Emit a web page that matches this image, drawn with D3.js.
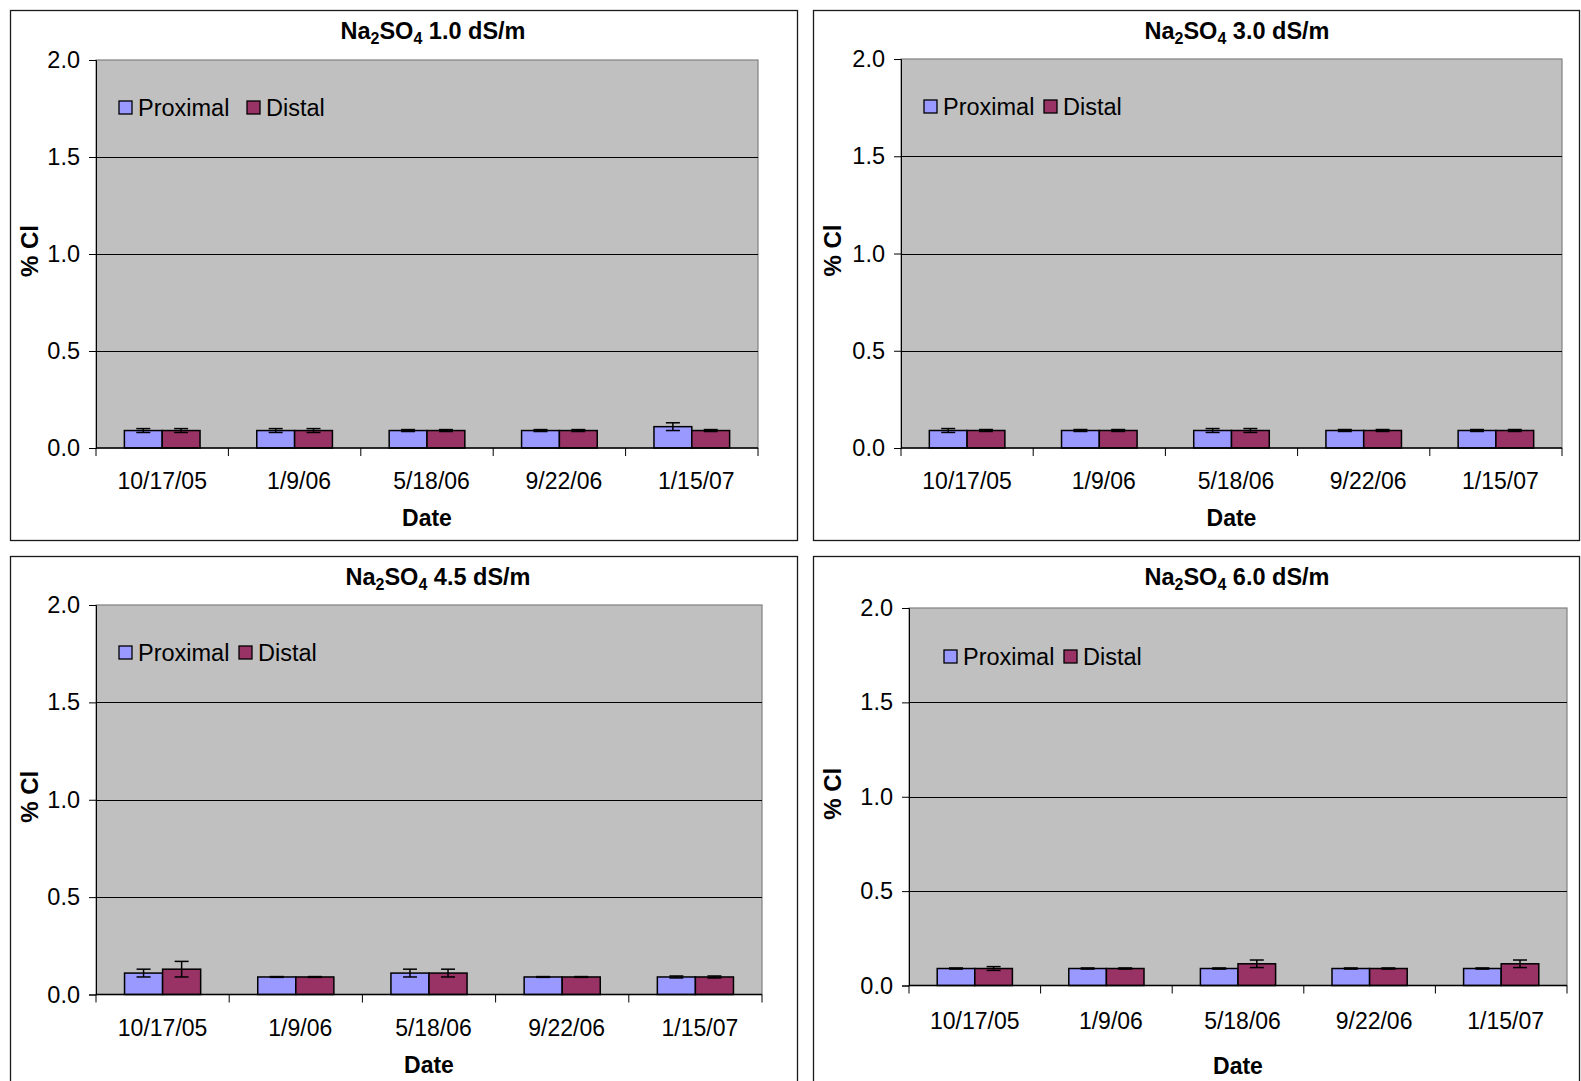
<!DOCTYPE html>
<html>
<head>
<meta charset="utf-8">
<script src="https://cdn.jsdelivr.net/npm/d3@7"></script>
<style>
  html, body { margin: 0; padding: 0; background: #fff; }
  svg { display: block; font-family: "Liberation Sans", Arial, sans-serif; }
  .tick text { fill: #000; }
</style>
</head>
<body>
<svg id="chart" width="1581" height="1081"></svg>
<script>
const dates = ["10/17/05", "1/9/06", "5/18/06", "9/22/06", "1/15/07"];
const series = ["Proximal", "Distal"];
const conductivities = ["1.0", "3.0", "4.5", "6.0"];
const yTicks = [0, 0.5, 1.0, 1.5, 2.0];

// % Cl means, one row per panel
const proximalValues = [
  [0.09, 0.09, 0.09, 0.09, 0.11],
  [0.09, 0.09, 0.09, 0.09, 0.09],
  [0.11, 0.09, 0.11, 0.09, 0.09],
  [0.09, 0.09, 0.09, 0.09, 0.09],
];
const distalValues = [
  [0.09, 0.09, 0.09, 0.09, 0.09],
  [0.09, 0.09, 0.09, 0.09, 0.09],
  [0.13, 0.09, 0.11, 0.09, 0.09],
  [0.09, 0.09, 0.115, 0.09, 0.115],
];
const proximalErrors = [
  [0.01, 0.01, 0.005, 0.005, 0.02],
  [0.01, 0.005, 0.01, 0.005, 0.005],
  [0.02, 0.002, 0.02, 0.002, 0.005],
  [0.003, 0.003, 0.003, 0.003, 0.003],
];
const distalErrors = [
  [0.01, 0.01, 0.005, 0.005, 0.005],
  [0.005, 0.005, 0.01, 0.005, 0.005],
  [0.04, 0.002, 0.02, 0.002, 0.005],
  [0.01, 0.003, 0.02, 0.003, 0.02],
];

const colors = { Proximal: "#9999ff", Distal: "#993366" };

// panel frames and plot areas (pixels)
const panels = [
  { box: [10, 10, 787, 530], plot: [96, 60, 662, 388], titleX: 433, titleY: 31, labelDy: 33, dateDy: 70, yTitleX: 30, legend: [119, 101], distalOffset: 128 },
  { box: [813, 10, 766, 530], plot: [901, 59, 661, 389], titleX: 1237, titleY: 31, labelDy: 33, dateDy: 70, yTitleX: 833, legend: [924, 100], distalOffset: 120 },
  { box: [10, 556, 787, 540], plot: [96, 605, 666, 389.5], titleX: 438, titleY: 577, labelDy: 33, dateDy: 70, yTitleX: 30, legend: [119, 646], distalOffset: 120 },
  { box: [813, 556, 766, 540], plot: [909, 608, 658, 377.5], titleX: 1237, titleY: 577, labelDy: 35, dateDy: 80, yTitleX: 833, legend: [944, 650], distalOffset: 120 },
];

const svg = d3.select("#chart");

panels.forEach((p, i) => {
  const [px, py, pw, ph] = p.plot;
  const g = svg.append("g").attr("class", "panel");

  g.append("rect")
    .attr("x", p.box[0] + 0.5).attr("y", p.box[1] + 0.5)
    .attr("width", p.box[2]).attr("height", p.box[3])
    .attr("fill", "#fff").attr("stroke", "#1a1a1a").attr("stroke-width", 1.3);

  const x0 = d3.scaleBand().domain(dates).range([px, px + pw]).padding(0);
  const groupW = (x0.bandwidth() * 2) / 3.5;
  const x1 = d3.scaleBand().domain(series).range([0, groupW]).padding(0);
  const y = d3.scaleLinear().domain([0, 2]).range([py + ph, py]);

  // plot area
  g.append("rect")
    .attr("x", px).attr("y", py).attr("width", pw).attr("height", ph)
    .attr("fill", "#c0c0c0").attr("stroke", "#808080").attr("stroke-width", 1.2);

  // gridlines
  g.append("g")
    .selectAll("line")
    .data(yTicks.filter((t) => t > 0 && t < 2))
    .join("line")
    .attr("x1", px).attr("x2", px + pw)
    .attr("y1", (d) => Math.round(y(d)) + 0.5).attr("y2", (d) => Math.round(y(d)) + 0.5)
    .attr("stroke", "#000").attr("stroke-width", 1);

  // y axis
  g.append("g")
    .attr("transform", `translate(${px},0)`)
    .call(d3.axisLeft(y).tickValues(yTicks).tickFormat(d3.format(".1f")).tickSize(7).tickPadding(9))
    .call((a) => a.selectAll("line, path").attr("stroke", "#000"))
    .call((a) => a.selectAll("text").attr("font-size", 23.5).attr("font-family", "Liberation Sans, Arial, sans-serif"));

  // bars
  const rows = dates.map((d, j) => ({
    date: d,
    items: [
      { key: "Proximal", value: proximalValues[i][j], err: proximalErrors[i][j] },
      { key: "Distal", value: distalValues[i][j], err: distalErrors[i][j] },
    ],
  }));

  const groups = g.append("g")
    .selectAll("g")
    .data(rows)
    .join("g")
    .attr("transform", (d) => `translate(${x0(d.date) + (x0.bandwidth() - groupW) / 2},0)`);

  groups.selectAll("rect")
    .data((d) => d.items)
    .join("rect")
    .attr("x", (d) => x1(d.key))
    .attr("y", (d) => y(d.value))
    .attr("width", x1.bandwidth())
    .attr("height", (d) => y(0) - y(d.value))
    .attr("fill", (d) => colors[d.key])
    .attr("stroke", "#000").attr("stroke-width", 1.5);

  const err = groups.selectAll("g.err")
    .data((d) => d.items)
    .join("g")
    .attr("class", "err")
    .attr("transform", (d) => `translate(${x1(d.key) + x1.bandwidth() / 2},0)`)
    .attr("stroke", "#000").attr("stroke-width", 1.5);
  err.append("line")
    .attr("y1", (d) => y(d.value + d.err)).attr("y2", (d) => y(d.value - d.err));
  err.append("line")
    .attr("x1", -7).attr("x2", 7)
    .attr("y1", (d) => y(d.value + d.err)).attr("y2", (d) => y(d.value + d.err));
  err.append("line")
    .attr("x1", -7).attr("x2", 7)
    .attr("y1", (d) => y(d.value - d.err)).attr("y2", (d) => y(d.value - d.err));

  // x axis: line with ticks at category boundaries
  const bottom = y(0);
  g.append("line")
    .attr("x1", px).attr("x2", px + pw)
    .attr("y1", bottom).attr("y2", bottom)
    .attr("stroke", "#000").attr("stroke-width", 1.3);
  const bounds = dates.map((d) => x0(d)).concat([px + pw]);
  g.append("g")
    .selectAll("line")
    .data(bounds)
    .join("line")
    .attr("x1", (d) => d).attr("x2", (d) => d)
    .attr("y1", bottom).attr("y2", bottom + 8)
    .attr("stroke", "#000").attr("stroke-width", 1);
  // Excel nudges the later category labels a little to the right
  g.append("g")
    .selectAll("text")
    .data(dates)
    .join("text")
    .attr("x", (d, j) => x0(d) + x0.bandwidth() / 2 + (j === 0 ? 0 : 4.5))
    .attr("y", bottom + p.labelDy)
    .attr("dy", "0.35em")
    .attr("text-anchor", "middle")
    .attr("font-size", 23)
    .text((d) => d);

  // axis titles
  g.append("text")
    .attr("x", px + pw / 2).attr("y", bottom + p.dateDy)
    .attr("dy", "0.35em").attr("text-anchor", "middle")
    .attr("font-size", 23).attr("font-weight", "bold")
    .text("Date");
  g.append("text")
    .attr("transform", `translate(${p.yTitleX},${py + ph / 2 - 3}) rotate(-90)`)
    .attr("dy", "0.35em").attr("text-anchor", "middle")
    .attr("font-size", 24).attr("font-weight", "bold")
    .text("% Cl");

  // title with subscripts
  const t = g.append("text")
    .attr("x", p.titleX).attr("y", p.titleY)
    .attr("dy", "0.35em").attr("text-anchor", "middle")
    .attr("font-size", 23.5).attr("font-weight", "bold");
  t.append("tspan").text("Na");
  t.append("tspan").attr("font-size", 16).attr("dy", 5).text("2");
  t.append("tspan").attr("dy", -5).text("SO");
  t.append("tspan").attr("font-size", 16).attr("dy", 5).text("4");
  t.append("tspan").attr("dy", -5).text(` ${conductivities[i]} dS/m`);

  // legend
  const lg = g.append("g").attr("transform", `translate(${p.legend[0]},${p.legend[1]})`);
  series.forEach((s, k) => {
    const item = lg.append("g").attr("transform", `translate(${k * p.distalOffset},0)`);
    item.append("rect")
      .attr("width", 13).attr("height", 13)
      .attr("fill", colors[s]).attr("stroke", "#000").attr("stroke-width", 1.3);
    item.append("text")
      .attr("x", 19).attr("y", 6.5).attr("dy", "0.35em")
      .attr("font-size", 23.5)
      .text(s);
  });
});
</script>
</body>
</html>
